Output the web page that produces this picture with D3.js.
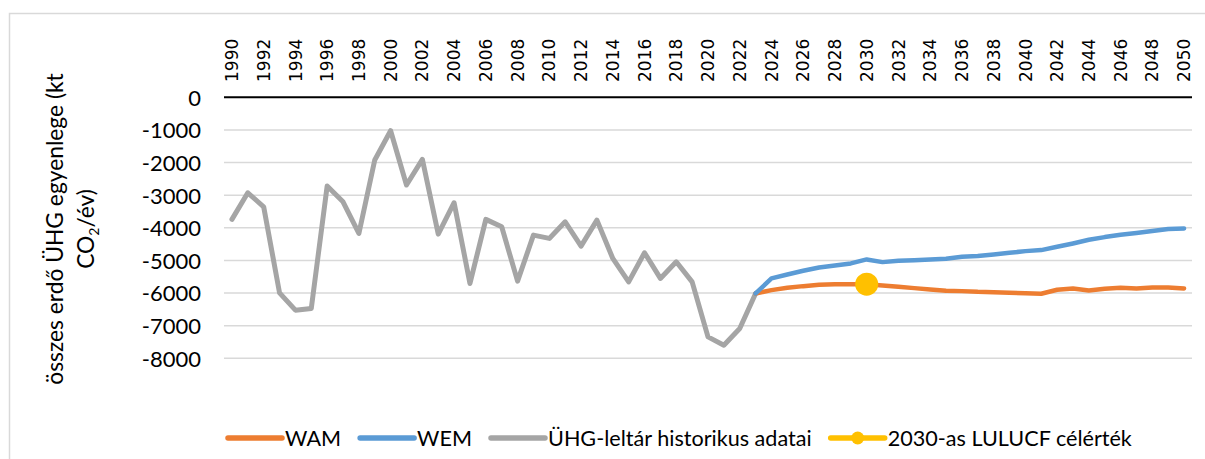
<!DOCTYPE html>
<html>
<head>
<meta charset="utf-8">
<script src="https://cdn.jsdelivr.net/npm/d3@7"></script>
<style>
  html, body { margin: 0; padding: 0; background: #ffffff; }
  svg { display: block; }
</style>
</head>
<body>
<svg id="chart" width="1205" height="459"></svg>
<script>
// Years on the category axis
const years = d3.range(1990, 2051);
const tickYears = years.filter(y => (y - 1990) % 2 === 0);
const yTicks = [0, -1000, -2000, -3000, -4000, -5000, -6000, -7000, -8000];

// GHG inventory, historical data 1990–2023 (kt CO2/year)
const historical = [
  -3742, -2926, -3356, -5994, -6525, -6473, -2721, -3202, -4172, -1923,
  -1024, -2690, -1902, -4193, -3232, -5706, -3742, -3969, -5635, -4224,
  -4325, -3816, -4561, -3764, -4939, -5656, -4765, -5552, -5042, -5656,
  -7343, -7598, -7086, -6012
];

// Projections 2023–2050
const wem = [
  -6012, -5552, -5430, -5318, -5215, -5153, -5092, -4969, -5052, -5012,
  -4991, -4969, -4950, -4890, -4864, -4816, -4767, -4715, -4684, -4583,
  -4479, -4368, -4285, -4214, -4162, -4101, -4040, -4020
];
const wam = [
  -6012, -5911, -5840, -5788, -5747, -5727, -5727, -5730, -5767, -5808,
  -5849, -5890, -5931, -5941, -5962, -5972, -5992, -6003, -6023, -5900,
  -5859, -5920, -5870, -5839, -5859, -5829, -5829, -5859
];

// 2030 LULUCF target
const targetYear = 2030;
const targetValue = -5730;

const seriesNames = ["WAM", "WEM", "ÜHG-leltár historikus adatai", "2030-as LULUCF célérték"];
const colors = { wam: "#ED7D31", wem: "#5B9BD5", hist: "#A5A5A5", target: "#FFC000" };

const svg = d3.select("#chart");
const font = "Lato, 'Open Sans', sans-serif";

// Chart area frame
svg.append("rect")
  .attr("x", 9.5).attr("y", 13.5)
  .attr("width", 1300).attr("height", 500)
  .attr("fill", "none")
  .attr("stroke", "#d9d9d9")
  .attr("stroke-width", 1.5);

const plot = { left: 224, right: 1192, top: 97.3, bottom: 358.3 };

const x = d3.scaleBand().domain(years).range([plot.left, plot.right]);
const cx = yr => x(yr) + x.bandwidth() / 2;
const y = d3.scaleLinear().domain([-8000, 0]).range([plot.bottom, plot.top]);

// Horizontal gridlines
svg.append("g")
  .selectAll("line")
  .data(yTicks.filter(v => v !== 0))
  .join("line")
  .attr("x1", plot.left).attr("x2", plot.right)
  .attr("y1", d => y(d)).attr("y2", d => y(d))
  .attr("stroke", "#d9d9d9")
  .attr("stroke-width", 1.6);

// Y axis labels (plain hyphen for the minus sign)
const yAxis = d3.axisLeft(y).tickValues(yTicks).tickSize(0).tickPadding(0).tickFormat(d => String(d));
const gy = svg.append("g").attr("transform", `translate(201,0)`).call(yAxis);
gy.select(".domain").remove();
gy.selectAll("text")
  .attr("font-family", font)
  .attr("font-size", 22)
  .attr("fill", "#000")
  .attr("dy", "0.36em");

// Category axis line at zero, labels on top
svg.append("line")
  .attr("x1", plot.left).attr("x2", plot.right)
  .attr("y1", y(0)).attr("y2", y(0))
  .attr("stroke", "#000")
  .attr("stroke-width", 2);

svg.append("g")
  .selectAll("text")
  .data(tickYears)
  .join("text")
  .attr("transform", d => `translate(${cx(d)},82) rotate(-90)`)
  .attr("dy", "0.36em")
  .attr("text-anchor", "start")
  .attr("font-family", "'DejaVu Sans', sans-serif")
  .attr("font-size", 17)
  .attr("fill", "#000")
  .text(d => d);

// Y axis title (two lines)
const yTitle = svg.append("text")
  .attr("transform", "translate(0,229) rotate(-90)")
  .attr("text-anchor", "middle")
  .attr("font-family", font)
  .attr("font-size", 22.8)
  .attr("fill", "#000");
yTitle.append("tspan").attr("x", 0).attr("y", 63).text("összes erdő ÜHG egyenlege (kt");
const l2 = yTitle.append("tspan").attr("x", 0).attr("y", 94);
l2.append("tspan").text("CO");
l2.append("tspan").attr("font-size", 14).attr("dy", 5).text("2");
l2.append("tspan").attr("dy", -5).text("/év)");

// Lines
const line = d3.line().x(d => cx(d.year)).y(d => y(d.value));
const toPoints = (arr, start) => arr.map((v, i) => ({ year: start + i, value: v }));

svg.append("path")
  .datum(toPoints(historical, 1990))
  .attr("d", line)
  .attr("fill", "none")
  .attr("stroke", colors.hist)
  .attr("stroke-width", 5)
  .attr("stroke-linejoin", "round")
  .attr("stroke-linecap", "round");

svg.append("path")
  .datum(toPoints(wam, 2023))
  .attr("d", line)
  .attr("fill", "none")
  .attr("stroke", colors.wam)
  .attr("stroke-width", 4.5)
  .attr("stroke-linejoin", "round")
  .attr("stroke-linecap", "round");

svg.append("path")
  .datum(toPoints(wem, 2023))
  .attr("d", line)
  .attr("fill", "none")
  .attr("stroke", colors.wem)
  .attr("stroke-width", 4.5)
  .attr("stroke-linejoin", "round")
  .attr("stroke-linecap", "round");

svg.append("circle")
  .attr("cx", cx(targetYear))
  .attr("cy", y(targetValue))
  .attr("r", 11.5)
  .attr("fill", colors.target);

// Legend
const legendItems = [
  { name: seriesNames[0], color: colors.wam, marker: false },
  { name: seriesNames[1], color: colors.wem, marker: false },
  { name: seriesNames[2], color: colors.hist, marker: false },
  { name: seriesNames[3], color: colors.target, marker: true }
];
const legend = svg.append("g").attr("transform", "translate(0,438)");
let lx = 228;
legendItems.forEach(item => {
  const g = legend.append("g");
  g.append("line")
    .attr("x1", lx).attr("x2", lx + 54)
    .attr("y1", 0).attr("y2", 0)
    .attr("stroke", item.color)
    .attr("stroke-width", 5.5)
    .attr("stroke-linecap", "round");
  if (item.marker) {
    g.append("circle").attr("cx", lx + 27).attr("cy", 0).attr("r", 6.5).attr("fill", item.color);
  }
  const t = g.append("text")
    .attr("x", lx + 57)
    .attr("y", 0)
    .attr("dy", "0.36em")
    .attr("font-family", font)
    .attr("font-size", 21.6)
    .attr("fill", "#000")
    .text(item.name);
  lx += 57 + t.node().getComputedTextLength() + 19;
});
</script>
</body>
</html>
